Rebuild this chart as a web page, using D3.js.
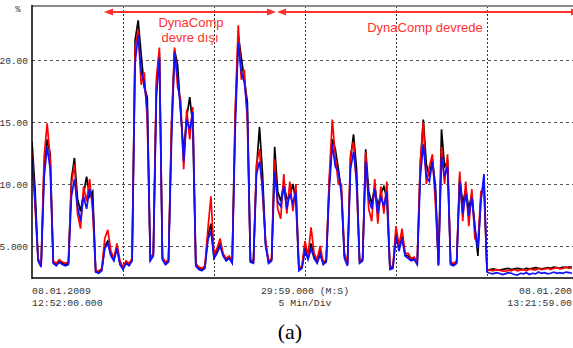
<!DOCTYPE html>
<html>
<head>
<meta charset="utf-8">
<script src="https://cdn.jsdelivr.net/npm/d3@7"></script>
<style>
  html, body { margin: 0; padding: 0; background: #fff; }
  svg { display: block; }
</style>
</head>
<body>
<div id="chart"></div>
<script>
// one sample every 10 s, 12:52:00 -> 13:21:59
const sampleSec = 10;

const blackPct = [13.4, 9.6, 3.9, 3.4, 11.4, 13.6, 12.4, 3.7, 3.5, 3.8, 3.6, 3.5, 3.6, 10.4, 12.1, 8.8, 7.8, 9.2, 10.6, 9.0,
  9.4, 2.95, 2.9, 3.1, 5.0, 5.4, 4.3, 3.9, 4.9, 3.6, 3.2, 3.7, 3.5, 3.9, 21.6, 23.2, 20.4, 17.8, 17.0, 3.9,
  4.3, 17.8, 20.6, 4.0, 3.6, 3.8, 14.5, 20.8, 19.6, 15.8, 12.6, 15.4, 17.0, 14.8, 3.5, 3.2, 3.1, 3.3, 5.8, 6.8,
  4.1, 4.6, 5.2, 4.3, 3.9, 4.1, 3.7, 15.5, 22.0, 20.2, 18.4, 16.6, 3.8, 3.7, 11.2, 14.6, 10.8, 5.2, 3.7, 3.9,
  13.0, 9.4, 8.6, 10.0, 8.8, 9.0, 10.0, 8.6, 3.1, 3.3, 5.0, 4.0, 5.2, 4.2, 3.7, 4.6, 3.6, 3.8, 10.2, 13.6,
  12.8, 11.2, 9.4, 4.2, 3.5, 12.0, 14.0, 11.2, 3.7, 3.9, 12.8, 9.4, 8.4, 9.8, 8.2, 9.2, 9.8, 8.8, 3.2, 3.3,
  6.0, 4.8, 5.8, 4.3, 4.2, 3.9, 4.0, 3.6, 11.4, 15.2, 11.6, 10.6, 12.0, 9.8, 3.5, 14.4, 11.4, 11.8, 3.6, 3.5,
  3.7, 10.6, 8.4, 9.6, 8.0, 9.2, 6.6, 4.2, 9.0, 10.0, 3.05, 3.1, 3.15, 3.1, 3.05, 3.1, 3.15, 3.2, 3.1, 3.15,
  3.2, 3.15, 3.1, 3.2, 3.15, 3.2, 3.25, 3.2, 3.15, 3.2, 3.25, 3.2, 3.3, 3.25, 3.2, 3.3, 3.25, 3.3, 3.3];

const redPct = [12.6, 8.2, 4.0, 3.5, 12.2, 14.9, 12.0, 3.8, 3.6, 3.9, 3.7, 3.6, 3.7, 10.0, 11.6, 7.6, 6.4, 9.8, 8.6, 10.4,
  7.8, 3.0, 3.0, 3.2, 5.6, 6.3, 4.6, 4.0, 5.2, 3.8, 3.3, 3.8, 3.6, 4.0, 21.0, 22.4, 18.0, 19.0, 15.2, 4.0,
  4.4, 18.5, 21.0, 4.1, 3.7, 3.9, 15.0, 21.0, 17.8, 16.8, 11.2, 16.0, 13.6, 16.2, 3.6, 3.3, 3.2, 3.4, 6.4, 9.0,
  4.3, 4.8, 5.6, 4.4, 4.0, 4.2, 3.8, 16.0, 22.8, 18.4, 19.2, 15.0, 3.9, 3.8, 11.6, 12.8, 9.2, 5.4, 3.8, 4.0,
  12.0, 8.0, 7.2, 10.8, 7.6, 10.2, 7.8, 10.0, 3.2, 3.4, 5.4, 4.2, 6.5, 4.4, 3.9, 5.0, 3.7, 3.9, 10.5, 15.2,
  12.2, 10.0, 10.0, 4.4, 3.6, 12.4, 13.4, 9.8, 3.8, 4.0, 12.6, 8.0, 7.0, 10.4, 6.8, 9.8, 7.6, 10.2, 3.3, 3.4,
  6.6, 5.0, 6.4, 4.4, 4.4, 4.0, 4.1, 3.7, 11.8, 15.0, 10.0, 11.4, 12.4, 8.4, 3.6, 13.0, 10.0, 12.4, 3.7, 3.6,
  3.8, 11.0, 7.0, 10.2, 6.6, 9.6, 5.6, 5.2, 9.4, 9.6, 3.1, 3.05, 3.0, 3.1, 3.05, 3.0, 2.95, 3.05, 3.0, 3.1,
  3.0, 3.05, 3.1, 3.0, 3.15, 3.1, 3.05, 3.2, 3.1, 3.15, 3.2, 3.1, 3.2, 3.25, 3.15, 3.2, 3.3, 3.2, 3.25];

const bluePct = [12.0, 8.8, 3.8, 3.3, 10.5, 13.0, 11.2, 3.6, 3.4, 3.7, 3.5, 3.4, 3.5, 9.0, 10.4, 8.2, 7.0, 9.0, 8.0, 9.6,
  8.6, 2.9, 2.8, 3.0, 4.8, 5.2, 4.2, 3.8, 4.8, 3.5, 3.1, 3.6, 3.4, 3.8, 19.8, 22.0, 19.0, 18.2, 16.0, 3.8,
  4.2, 17.0, 20.2, 3.9, 3.5, 3.7, 13.5, 20.6, 18.6, 16.0, 11.8, 15.2, 14.4, 15.8, 3.4, 3.1, 3.0, 3.2, 5.5, 6.2,
  4.0, 4.4, 5.0, 4.2, 3.8, 4.0, 3.6, 14.5, 21.4, 19.0, 18.2, 15.8, 3.7, 3.6, 10.8, 11.8, 9.8, 5.0, 3.6, 3.8,
  11.0, 8.6, 8.2, 9.8, 8.0, 9.2, 8.4, 9.4, 3.0, 3.2, 4.6, 3.9, 4.8, 4.0, 3.6, 4.3, 3.5, 3.7, 9.5, 13.2,
  11.4, 11.0, 9.2, 4.0, 3.4, 11.2, 12.6, 10.4, 3.6, 3.8, 11.8, 8.8, 8.0, 9.6, 7.6, 9.0, 8.2, 9.4, 3.1, 3.2,
  5.8, 4.6, 5.6, 4.2, 4.0, 3.8, 3.9, 3.5, 10.5, 13.2, 10.6, 10.2, 11.8, 9.4, 3.4, 12.2, 10.6, 11.4, 3.5, 3.4,
  3.6, 10.2, 7.6, 9.2, 7.4, 8.9, 6.4, 4.8, 8.6, 10.8, 2.9, 2.8, 2.75, 2.85, 2.8, 2.7, 2.75, 2.85, 2.8, 2.7,
  2.65, 2.8, 2.75, 2.85, 2.7, 2.8, 2.75, 2.9, 2.8, 2.85, 2.75, 2.8, 2.9, 2.8, 2.85, 2.8, 2.9, 2.85, 2.8];

const yTicks = [5, 10, 15, 20];
const yTickLabels = ["5.000", "10.00", "15.00", "20.00"];
const gridMinutes = [5, 10, 15, 20, 25];

const width = 573, height = 348;
const plotLeft = 32, plotTop = 6, plotRight = 578, plotBottom = 278;

const svg = d3.select("#chart").append("svg")
  .attr("width", width)
  .attr("height", height)
  .style("font-family", "'Liberation Mono', 'DejaVu Sans Mono', monospace");

const x = d3.scaleLinear().domain([0, 1800]).range([plotLeft, plotRight]);
const y = d3.scaleLinear().domain([2.42, 24.35]).range([plotBottom, plotTop]);

svg.append("defs").append("clipPath").attr("id", "plot")
  .append("rect")
  .attr("x", plotLeft).attr("y", plotTop)
  .attr("width", plotRight - plotLeft).attr("height", plotBottom - plotTop);

// grid
svg.append("g").selectAll("line")
  .data(yTicks)
  .enter().append("line")
  .attr("x1", plotLeft).attr("x2", width)
  .attr("y1", d => Math.round(y(d)) + 0.5).attr("y2", d => Math.round(y(d)) + 0.5)
  .attr("stroke", "#555")
  .attr("stroke-dasharray", "3,3");

svg.append("g").selectAll("line")
  .data(gridMinutes)
  .enter().append("line")
  .attr("x1", d => Math.round(x(d * 60)) + 0.5).attr("x2", d => Math.round(x(d * 60)) + 0.5)
  .attr("y1", plotTop).attr("y2", plotBottom)
  .attr("stroke", "#333")
  .attr("stroke-dasharray", "2,2");

// series, blue on top
const line = d3.line()
  .x((d, i) => x(i * sampleSec))
  .y(d => y(d));

const series = [
  { values: blackPct, color: "#000" },
  { values: redPct, color: "#ff0000" },
  { values: bluePct, color: "#1010ff" }
];

svg.append("g").attr("clip-path", "url(#plot)")
  .selectAll("path")
  .data(series)
  .enter().append("path")
  .attr("d", d => line(d.values))
  .attr("fill", "none")
  .attr("stroke", d => d.color)
  .attr("stroke-width", 1.7)
  .attr("stroke-linejoin", "miter");

// frame
svg.append("line")
  .attr("x1", plotLeft).attr("x2", width)
  .attr("y1", plotTop).attr("y2", plotTop)
  .attr("stroke", "#8a8a8a").attr("stroke-width", 2);

svg.append("line")
  .attr("x1", plotLeft).attr("x2", plotLeft)
  .attr("y1", plotTop - 1).attr("y2", plotBottom + 1)
  .attr("stroke", "#000").attr("stroke-width", 1.5);

svg.append("line")
  .attr("x1", plotLeft).attr("x2", width)
  .attr("y1", plotBottom).attr("y2", plotBottom)
  .attr("stroke", "#000").attr("stroke-width", 1.5);

// y labels
const yAxis = d3.axisLeft(y)
  .tickValues(yTicks)
  .tickSize(0)
  .tickPadding(4)
  .tickFormat((d, i) => yTickLabels[i]);

const yg = svg.append("g")
  .attr("transform", `translate(${plotLeft},0)`)
  .call(yAxis);
yg.select(".domain").remove();
yg.selectAll("text")
  .attr("font-family", "'Liberation Mono', monospace")
  .attr("font-size", "9.5px")
  .attr("fill", "#333");

svg.append("text")
  .attr("x", 18).attr("y", 12)
  .attr("text-anchor", "middle")
  .attr("font-size", "9px")
  .attr("fill", "#333")
  .text("%");

// bottom captions
const cap = svg.append("g")
  .attr("font-size", "9.8px")
  .attr("fill", "#333");

cap.append("text").attr("x", plotLeft).attr("y", 294).text("08.01.2009");
cap.append("text").attr("x", plotLeft).attr("y", 306).text("12:52:00.000");
cap.append("text").attr("x", x(900)).attr("y", 294).attr("text-anchor", "middle").text("29:59.000 (M:S)");
cap.append("text").attr("x", x(900)).attr("y", 306).attr("text-anchor", "middle").text("5 Min/Div");
// right-hand stamp is cut by the page edge in the source
cap.append("text").attr("x", 572).attr("y", 294).attr("text-anchor", "end").text("08.01.200");
cap.append("text").attr("x", 572).attr("y", 306).attr("text-anchor", "end").text("13:21:59.00");

svg.append("text")
  .attr("x", 290).attr("y", 339)
  .attr("text-anchor", "middle")
  .attr("font-family", "'Liberation Serif', 'Times New Roman', serif")
  .attr("font-size", "22px")
  .attr("fill", "#000")
  .text("(a)");

// annotations
const red = "#ff3030";
const ann = svg.append("g");

function arrowHead(xTip, dir) {
  ann.append("path")
    .attr("d", `M${xTip},12 L${xTip - dir * 9},8.5 L${xTip - dir * 9},15.5 Z`)
    .attr("fill", red);
}

ann.append("line")
  .attr("x1", 108).attr("x2", 272)
  .attr("y1", 12).attr("y2", 12)
  .attr("stroke", red).attr("stroke-width", 2);
arrowHead(104, -1);
arrowHead(276, 1);

ann.append("line")
  .attr("x1", 281).attr("x2", 580)
  .attr("y1", 12).attr("y2", 12)
  .attr("stroke", red).attr("stroke-width", 2);
arrowHead(277, -1);
arrowHead(580, 1);

const annText = ann.append("g")
  .attr("font-family", "'Liberation Sans', Arial, sans-serif")
  .attr("font-size", "13px")
  .attr("fill", red)
  .attr("text-anchor", "middle");

annText.append("text").attr("x", 191).attr("y", 27).text("DynaComp");
annText.append("text").attr("x", 190).attr("y", 42).text("devre dışı");
annText.append("text").attr("x", 425).attr("y", 32).text("DynaComp devrede");
</script>
</body>
</html>
